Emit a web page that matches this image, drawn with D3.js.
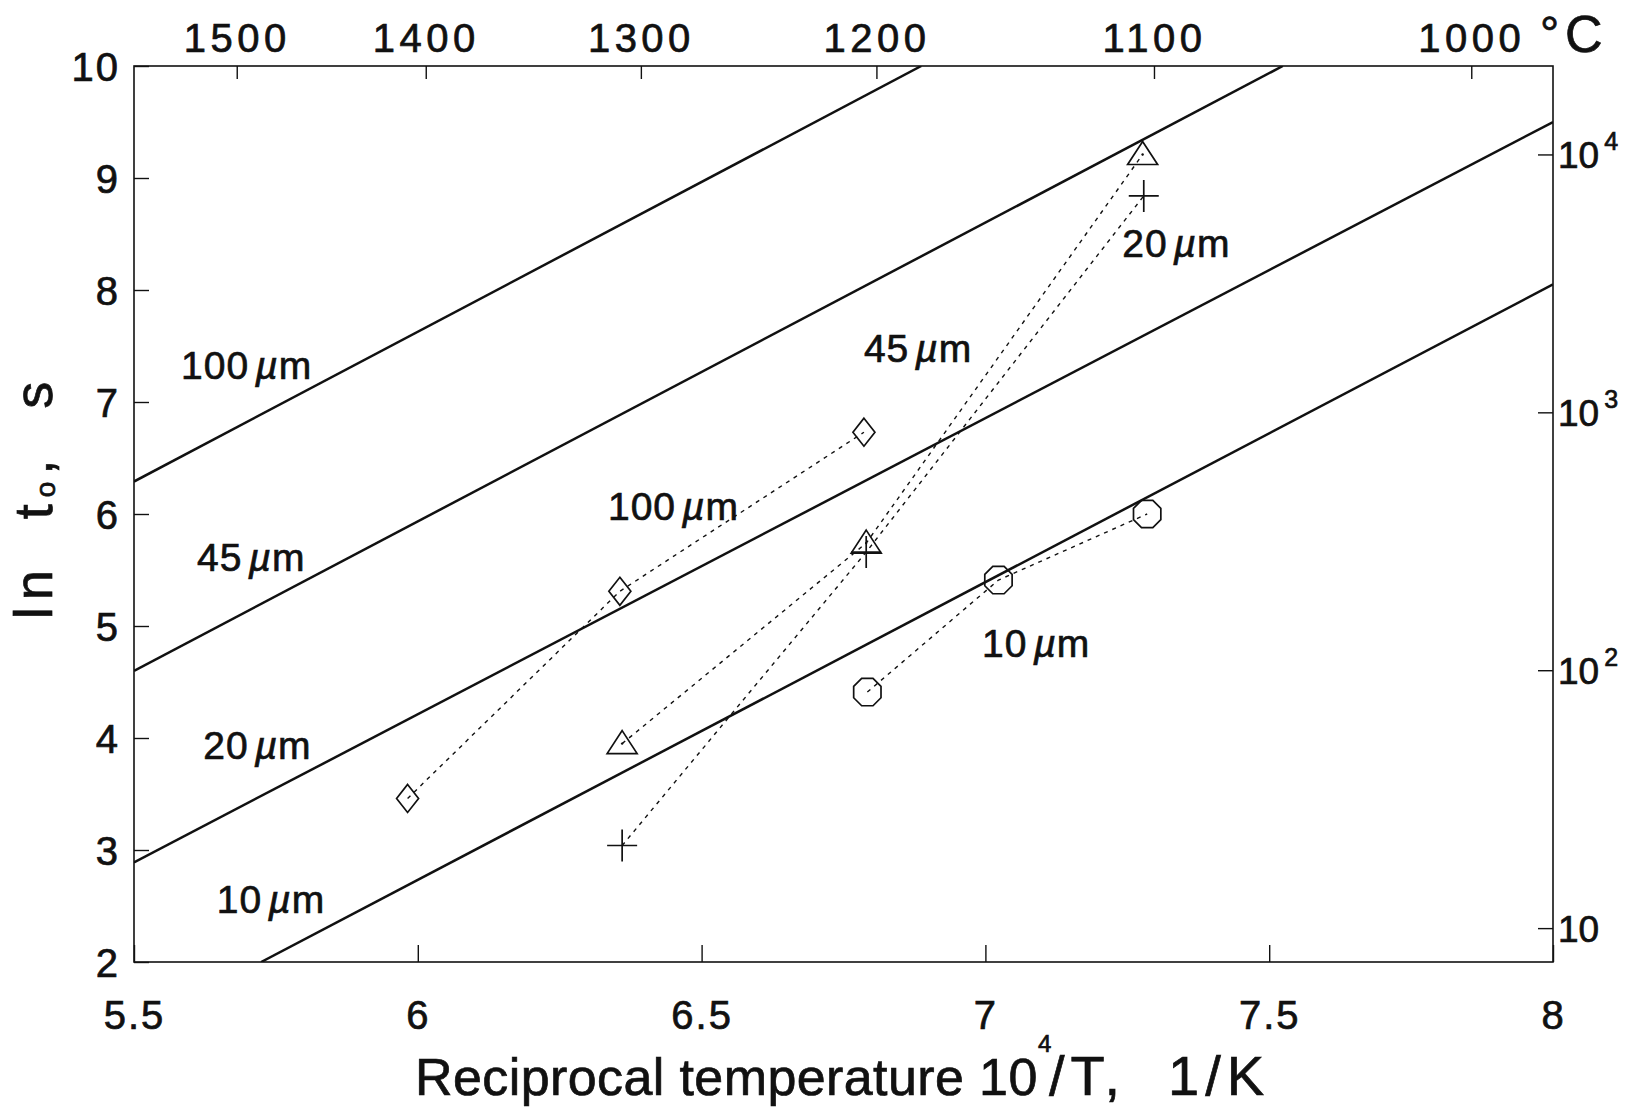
<!DOCTYPE html>
<html><head><meta charset="utf-8">
<script src="https://cdn.jsdelivr.net/npm/d3@7"></script>
<style>
html,body{margin:0;padding:0;background:#fff;}
svg{display:block;}
text{font-family:"Liberation Sans", Arial, Helvetica, sans-serif; fill:#111; stroke:#111; stroke-width:0.7px; white-space:pre;}
</style></head><body>
<svg id="chart" width="1625" height="1107"></svg>
<script>
// ---------- data ----------
const xTickValues = [5.5, 6, 6.5, 7, 7.5, 8];
const xTickLabels = ["5.5", "6", "6.5", "7", "7.5", "8"];
const yTickValues = [2, 3, 4, 5, 6, 7, 8, 9, 10];
const yTickLabels = ["2", "3", "4", "5", "6", "7", "8", "9", "10"];
const topTickPositions = [5.681, 6.014, 6.393, 6.808, 7.297, 7.856];
const topTickLabels = ["1500", "1400", "1300", "1200", "1100", "1000"];
const rightTickValues = [10, 100, 1000, 10000];
const rightTickExponents = ["", "2", "3", "4"];

// solid model lines (grain size)
const fitNames = ["100\u00b5m", "45\u00b5m", "20\u00b5m", "10\u00b5m"];
const fitX = [[5.5, 6.887], [5.5, 7.524], [5.5, 8.0], [5.724, 8.0]];
const fitY = [[6.29, 10.0], [4.60, 10.0], [2.89, 9.50], [2.0, 8.05]];

// measured points (dotted series)
const seriesNames = ["100\u00b5m", "45\u00b5m", "20\u00b5m", "10\u00b5m"];
const seriesSymbols = ["diamond", "triangle", "plus", "octagon"];
const diamondX = [5.982, 6.356, 6.786];
const diamondY = [3.46, 5.31, 6.73];
const triangleX = [6.360, 6.790, 7.277];
const triangleY = [3.95, 5.74, 9.21];
const plusX = [6.360, 6.790, 7.279];
const plusY = [3.04, 5.66, 8.84];
const octagonX = [6.792, 7.023, 7.285];
const octagonY = [4.41, 5.41, 6.00];

// ---------- layout ----------
const L = 134, R = 1553, T = 66, B = 962;
const svg = d3.select("#chart");
const x = d3.scaleLinear().domain([5.5, 8]).range([L, R]);
const y = d3.scaleLinear().domain([2, 10]).range([B, T]);
const yR = d3.scaleLog().domain([Math.exp(2), Math.exp(10)]).range([B, T]);

const ink = "#111";

const defs = svg.append("defs");
defs.append("clipPath").attr("id", "plotclip")
  .append("rect").attr("x", L).attr("y", T).attr("width", R - L).attr("height", B - T);

const plot = svg.append("g").attr("clip-path", "url(#plotclip)");

// solid lines
const line = d3.line().x(d => x(d[0])).y(d => y(d[1]));
fitNames.forEach((n, i) => {
  const pts = fitX[i].map((v, j) => [v, fitY[i][j]]);
  plot.append("path").attr("d", line(pts))
    .attr("fill", "none").attr("stroke", ink).attr("stroke-width", 2.5);
});

// dotted series + markers
const seriesX = [diamondX, triangleX, plusX, octagonX];
const seriesY = [diamondY, triangleY, plusY, octagonY];

function symbolPath(type) {
  if (type === "diamond") return "M0,-14L11,0L0,14L-11,0Z";
  if (type === "triangle") return "M0,-13L15,10L-15,10Z";
  if (type === "plus") return "M-15,0H15M0,-16V16";
  if (type === "octagon") {
    const r = 14.8, p = [];
    for (let k = 0; k < 8; k++) {
      const a = (22.5 + 45 * k) * Math.PI / 180;
      p.push([r * Math.cos(a), r * Math.sin(a)]);
    }
    return "M" + p.map(q => q[0].toFixed(2) + "," + q[1].toFixed(2)).join("L") + "Z";
  }
}

seriesNames.forEach((n, i) => {
  const pts = seriesX[i].map((v, j) => [v, seriesY[i][j]]);
  plot.append("path").attr("d", line(pts))
    .attr("fill", "none").attr("stroke", ink).attr("stroke-width", 1.4)
    .attr("stroke-dasharray", "4,5");
  plot.selectAll(null).data(pts).enter().append("path")
    .attr("transform", d => `translate(${x(d[0])},${y(d[1])})`)
    .attr("d", symbolPath(seriesSymbols[i]))
    .attr("fill", "none").attr("stroke", ink).attr("stroke-width", 1.7);
  if (seriesSymbols[i] === "triangle") {
    plot.selectAll(null).data(pts).enter().append("circle")
      .attr("cx", d => x(d[0])).attr("cy", d => y(d[1])).attr("r", 1.2).attr("fill", ink);
  }
});

// curve labels (anchor in data units: start x, baseline y)
const labelText = ["100", "45", "20", "10", "100", "45", "20", "10"];
const labelAt = [[5.583, 7.205], [5.611, 5.491], [5.622, 3.813], [5.646, 2.438],
                 [6.335, 5.946], [6.786, 7.357], [7.241, 8.295], [6.994, 4.723]];
labelText.forEach((t, i) => {
  const tx = svg.append("text").attr("x", x(labelAt[i][0])).attr("y", y(labelAt[i][1]))
    .attr("font-size", 39).attr("letter-spacing", 1);
  tx.append("tspan").text(t);
  tx.append("tspan").attr("dx", 6).attr("font-style", "italic").text("\u00b5");
  tx.append("tspan").text("m");
});

// frame
svg.append("rect").attr("x", L).attr("y", T).attr("width", R - L).attr("height", B - T)
  .attr("fill", "none").attr("stroke", ink).attr("stroke-width", 1.6);

function styleAxis(g) {
  g.select(".domain").remove();
  g.selectAll(".tick line").attr("stroke", ink).attr("stroke-width", 1.4);
  g.selectAll(".tick text").attr("fill", ink).attr("font-family", null).attr("font-size", null);
}

// bottom axis
const gB = svg.append("g").attr("transform", `translate(0,${B})`)
  .call(d3.axisBottom(x).tickValues(xTickValues).tickSize(-17)
    .tickFormat((d, i) => xTickLabels[i]));
styleAxis(gB);
gB.selectAll(".tick text").attr("dy", 0).attr("y", 67)
  .style("font-size", "40px").attr("letter-spacing", 2);

// left axis
const gL = svg.append("g").attr("transform", `translate(${L},0)`)
  .call(d3.axisLeft(y).tickValues(yTickValues).tickSize(-15)
    .tickFormat((d, i) => yTickLabels[i]));
styleAxis(gL);
gL.selectAll(".tick text").attr("dy", 0).attr("y", 14).attr("x", -14)
  .style("font-size", "40px").attr("letter-spacing", 2);

// top axis (temperature, deg C)
const gT = svg.append("g").attr("transform", `translate(0,${T})`)
  .call(d3.axisTop(x).tickValues(topTickPositions).tickSize(-13)
    .tickFormat((d, i) => topTickLabels[i]));
styleAxis(gT);
gT.selectAll(".tick text").attr("dy", 0).attr("y", -14)
  .style("font-size", "40px").attr("letter-spacing", 4.5);

svg.append("text").attr("x", 1540).attr("y", 50).style("font-size", "48px").text("\u00b0");
svg.append("text").attr("x", 1565).attr("y", 52).style("font-size", "52px").text("C");

// right axis (t0, s)
const gR = svg.append("g").attr("transform", `translate(${R},0)`)
  .call(d3.axisRight(yR).tickValues(rightTickValues).tickSize(-15).tickFormat(() => ""));
styleAxis(gR);
gR.selectAll(".tick text").each(function(d, i) {
  const t = d3.select(this).attr("dy", 0).attr("y", 13).attr("x", 5)
    .style("font-size", "37px").attr("text-anchor", "start");
  t.append("tspan").text("10");
  if (rightTickExponents[i]) {
    t.append("tspan").attr("dx", 5).attr("dy", -18).style("font-size", "25px").text(rightTickExponents[i]);
  }
});

// x title
svg.append("text").attr("x", 415).attr("y", 1095)
  .style("font-size", "52px").attr("letter-spacing", 0.4)
  .text("Reciprocal temperature 10");
svg.append("text").attr("x", 1038).attr("y", 1052)
  .style("font-size", "24px").text("4");
svg.append("text").attr("x", 1049).attr("y", 1095)
  .style("font-size", "56px").attr("letter-spacing", 6)
  .text("/T,");
svg.append("text").attr("x", 1168).attr("y", 1095)
  .style("font-size", "56px").attr("letter-spacing", 6)
  .text("1/K");

// y title
const yt = svg.append("text").attr("transform", "translate(52,497) rotate(-90)")
  .attr("text-anchor", "middle").style("font-size", "54px").attr("letter-spacing", 7);
yt.append("tspan").text("ln  t");
yt.append("tspan").attr("dy", 3).style("font-size", "28px").text("o");
yt.append("tspan").attr("dy", -3).text(",  s");
</script>
</body></html>
